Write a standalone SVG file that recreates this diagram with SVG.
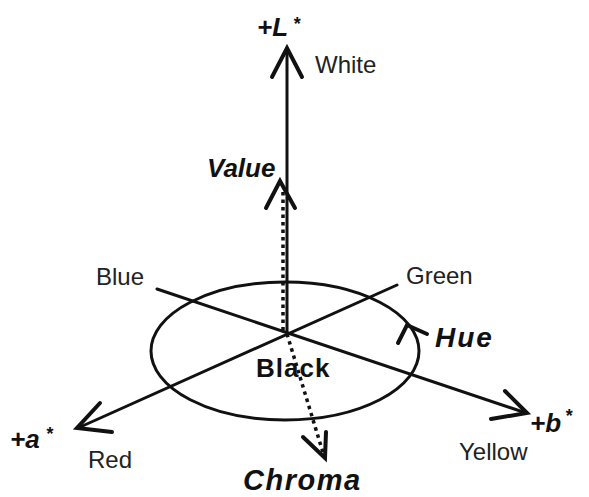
<svg xmlns="http://www.w3.org/2000/svg" width="589" height="497" viewBox="0 0 589 497">
<style>
.ln{stroke:#111;stroke-width:3;fill:none;stroke-linecap:round}
.ah{stroke:#111;stroke-width:4;fill:none;stroke-linecap:round;stroke-linejoin:miter}
.dot{stroke:#111;stroke-width:3.5;fill:none;stroke-dasharray:3.5 4}
.lab{font-family:"Liberation Sans",Arial,sans-serif;font-size:24px;fill:#222}
.bi{font-family:"Liberation Sans",Arial,sans-serif;font-weight:bold;font-style:italic;fill:#111}
</style>
<rect width="589" height="497" fill="#fff"/>
<g id="connectors">
<line class="ln" x1="287" y1="50" x2="287" y2="332"/>
<polyline class="ah" points="272,77 287,48 302,77"/>
<line class="dot" x1="283" y1="192" x2="283" y2="332"/>
<polyline class="ah" points="266,208 280,181 295,208"/>
<line class="ln" x1="157" y1="289" x2="526" y2="413"/>
<polyline class="ah" points="505,391 527,413 491,419"/>
<line class="ln" x1="397" y1="285" x2="78" y2="428"/>
<polyline class="ah" points="100,403 77,428 112,432"/>
<line class="dot" x1="287" y1="334" x2="324" y2="456"/>
<polyline class="ah" points="303,437 325,458 326,432"/>
<ellipse class="ln" cx="285" cy="351" rx="134" ry="69"/>
<polyline class="ah" points="398,343 407,325 427,334"/>
</g>
<g id="L"><text class="bi" x="257" y="36" font-size="26">+L<tspan dx="5" dy="-6" font-size="18">*</tspan></text></g>
<g id="white"><text class="lab" x="315" y="73">White</text></g>
<g id="value"><text class="bi" x="207" y="177" font-size="26">Value</text></g>
<g id="blue"><text class="lab" x="96" y="285">Blue</text></g>
<g id="green"><text class="lab" x="406" y="284">Green</text></g>
<g id="hue"><text class="bi" x="435" y="347" font-size="28" letter-spacing="2">Hue</text></g>
<g id="black"><text x="256" y="377" font-family="Liberation Sans,Arial,sans-serif" font-weight="bold" font-size="26" fill="#111" letter-spacing="1">Black</text></g>
<g id="a"><text class="bi" x="10" y="448" font-size="26">+a<tspan dx="6" dy="-8" font-size="18">*</tspan></text></g>
<g id="red"><text class="lab" x="88" y="468">Red</text></g>
<g id="yellow"><text class="lab" x="459" y="460">Yellow</text></g>
<g id="b"><text class="bi" x="530" y="432" font-size="26">+b<tspan dx="4" dy="-10" font-size="18">*</tspan></text></g>
<g id="chroma"><text class="bi" x="243" y="490" font-size="29" letter-spacing="1.5">Chroma</text></g>
</svg>
